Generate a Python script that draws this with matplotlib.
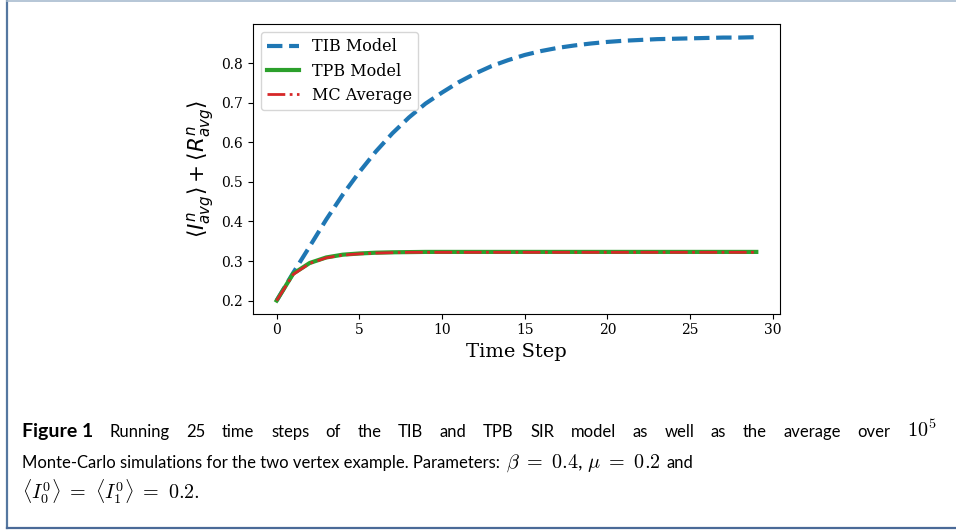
import numpy as np
import matplotlib
matplotlib.use("Agg")
import matplotlib.pyplot as plt
from matplotlib.lines import Line2D

plt.rcParams['font.family'] = 'DejaVu Serif'

# values
steps = list(range(30))
tib = [0.200, 0.270, 0.337, 0.405, 0.468, 0.525, 0.577, 0.623, 0.663, 0.698,
       0.726, 0.752, 0.774, 0.793, 0.808, 0.821, 0.831, 0.839, 0.845, 0.850,
       0.854, 0.857, 0.859, 0.861, 0.862, 0.863, 0.864, 0.865, 0.865, 0.866]
tpb = [0.200, 0.268, 0.295, 0.309, 0.316, 0.319, 0.321, 0.322, 0.3225, 0.323,
       0.323, 0.323, 0.323, 0.323, 0.323, 0.323, 0.323, 0.323, 0.323, 0.323,
       0.323, 0.323, 0.323, 0.323, 0.323, 0.323, 0.323, 0.323, 0.323, 0.323]
mc = [0.200, 0.266, 0.294, 0.308, 0.315, 0.318, 0.320, 0.321, 0.322, 0.322,
      0.322, 0.322, 0.322, 0.322, 0.322, 0.322, 0.322, 0.322, 0.322, 0.322,
      0.322, 0.322, 0.322, 0.322, 0.322, 0.322, 0.322, 0.322, 0.322, 0.322]
labels = ['TIB Model', 'TPB Model', 'MC Average']

W, H = 956, 531
fig = plt.figure(figsize=(W / 100, H / 100), dpi=100)
ax = fig.add_axes([0.2643, 0.4092, 0.5519, 0.5456])

ax.plot(steps, tib, '--', color='tab:blue', lw=3, label=labels[0])
ax.plot(steps, tpb, '-', color='tab:green', lw=3, label=labels[1])
ax.plot(steps, mc, '-.', color='tab:red', lw=2, label=labels[2])

ax.set_xticks([0, 5, 10, 15, 20, 25, 30])
ax.set_yticks([0.2, 0.3, 0.4, 0.5, 0.6, 0.7, 0.8])
ax.tick_params(labelsize=10)
ax.set_xlabel('Time Step', fontsize=14)
ax.set_ylabel(r'$\langle I^n_{avg}\rangle + \langle R^n_{avg}\rangle$', fontsize=15.5)
ax.legend(loc='upper left', fontsize=11.5, labelspacing=0.45)

# caption
reg = dict(family='Lato', fontsize=12.0, va='baseline')
bld = dict(family='Lato', fontsize=14.0, fontweight='bold', va='baseline')
mth = dict(family='Lato', fontsize=14.5, math_fontfamily='cm', va='baseline')
rend = fig.canvas.get_renderer()


def place(runs, x0, y, x_end=None, space=4.5):
    # lay runs out left to right; spread them to x_end when given
    texts = [fig.text(0, 1 - y / H, s, **p) for s, p in runs]
    widths = [t.get_window_extent(rend).width for t in texts]
    gap = space
    if x_end is not None:
        gap = (x_end - x0 - sum(widths)) / (len(texts) - 1)
    x = x0
    for t, wd in zip(texts, widths):
        t.set_x(x / W)
        x += wd + gap


line1 = 'Running 25 time steps of the TIB and TPB SIR model as well as the average over'
place([('Figure 1', bld)] + [(w, reg) for w in line1.split()] +
      [(r'$10^5$', mth)], 22, 437, x_end=936)
place([('Monte-Carlo simulations for the two vertex example. Parameters:', reg),
       (r'$\beta\ =\ 0.4$, $\mu\ =\ 0.2$', mth), ('and', reg)], 22, 468, space=6)
place([(r'$\langle I_0^0\rangle\ =\ \langle I_1^0\rangle\ =\ 0.2.$', mth)], 22, 499)

# frame around the figure
fig.add_artist(Line2D([7 / W, 7 / W], [0.005, 1], color='#5577a0', lw=1.6))
fig.add_artist(Line2D([7 / W, 1], [0.999, 0.999], color='#a9bccf', lw=1.2))
fig.add_artist(Line2D([7 / W, 1], [0.005, 0.005], color='#4a6a98', lw=1.6))

fig.savefig('out.png', dpi=100)
